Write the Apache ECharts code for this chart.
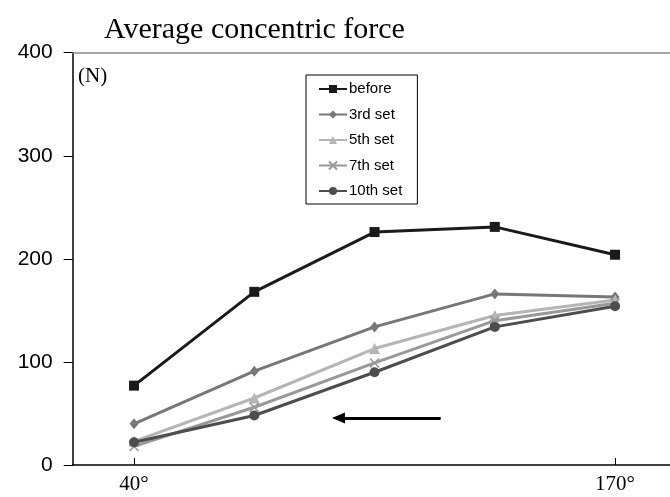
<!DOCTYPE html>
<html>
<head>
<meta charset="utf-8">
<script src="https://cdn.jsdelivr.net/npm/echarts@6/dist/echarts.min.js"></script>
<style>html,body{margin:0;padding:0;background:#fff}#c{width:670px;height:497px}</style>
</head>
<body>
<div id="c"></div>
<script>
// ---- data ----
const xLabels = ['40°', '', '', '', '170°'];
const seriesNames = ['before', '3rd set', '5th set', '7th set', '10th set'];
const before  = [77, 168, 226, 231, 204];
const set3    = [40, 91, 134, 166, 163];
const set5    = [23, 65, 113, 145, 160];
const set7    = [18, 56, 99, 140, 157];
const set10   = [22, 48, 90, 134, 154];
const yTicks  = [0, 100, 200, 300, 400];
const arrowFrom = [2.55, 45.5];
const arrowTo   = [1.70, 45.5];

const chart = echarts.init(document.getElementById('c'), null, {renderer: 'canvas'});

function pts(vals) { return vals.map((v, i) => [i, v]); }

const styles = [
  {color: '#1a1a1a', symbol: 'rect', size: 10},
  {color: '#777777', symbol: 'diamond', size: [9, 11]},
  {color: '#b5b5b5', symbol: 'triangle', size: 11},
  {color: '#999999', symbol: 'path://M0,0 L10,10 M10,0 L0,10', size: 9},
  {color: '#4d4d4d', symbol: 'circle', size: 10}
];
const allVals = [before, set3, set5, set7, set10];

const series = allVals.map((vals, k) => {
  const st = styles[k];
  return {
    name: seriesNames[k],
    type: 'line',
    data: pts(vals),
    symbol: st.symbol,
    symbolSize: st.size,
    showSymbol: true,
    lineStyle: {color: st.color, width: 3},
    itemStyle: {color: st.color, borderColor: st.color, borderWidth: k === 3 ? 1.6 : 0},
    emphasis: {disabled: true},
    animation: false,
    z: 2 + k
  };
});

series[0].markLine = {
  silent: true,
  animation: false,
  symbol: ['none', 'triangle'],
  symbolSize: [11, 13],
  label: {show: false},
  itemStyle: {color: '#000'},
  lineStyle: {color: '#000', width: 3, type: 'solid'},
  data: [[{coord: arrowFrom}, {coord: arrowTo}]]
};

const option = {
  backgroundColor: '#fff',
  animation: false,
  title: {
    text: 'Average concentric force',
    left: 104, top: 15, padding: 0,
    textStyle: {fontFamily: 'Liberation Serif', fontWeight: 'normal', fontSize: 30, color: '#000'}
  },
  grid: {left: 72.7, right: 0, top: 52.7, bottom: 32, containLabel: false},
  legend: {
    orient: 'vertical',
    left: 306, top: 75,
    padding: [6, 15, 5, 12],
    itemWidth: 28, itemHeight: 10, itemGap: 9.5,
    borderColor: '#000', borderWidth: 1,
    backgroundColor: '#fff',
    textStyle: {fontFamily: 'Liberation Sans', fontSize: 15, color: '#000', lineHeight: 16, padding: [0, 0, 0, -3]},
    data: seriesNames,
    selectedMode: false
  },
  xAxis: [{
    type: 'value',
    min: -0.51, max: 4.457,
    axisLine: {show: true, onZero: false, lineStyle: {color: '#000', width: 1.5}},
    axisTick: {show: true, inside: true, length: 7, customValues: [0, 4], lineStyle: {color: '#000', width: 1}},
    axisLabel: {
      show: true, customValues: [0, 4], margin: 9,
      fontFamily: 'Liberation Serif', fontSize: 21, color: '#000',
      formatter: v => xLabels[Math.round(v)] || ''
    },
    splitLine: {show: false}
  }, {
    type: 'value',
    position: 'top',
    min: -0.51, max: 4.457,
    axisLine: {show: true, onZero: false, lineStyle: {color: '#8a8a8a', width: 1.5}},
    axisTick: {show: false}, axisLabel: {show: false}, splitLine: {show: false}
  }],
  yAxis: {
    type: 'value',
    min: 0, max: 400, interval: 100,
    axisLine: {show: true, onZero: false, lineStyle: {color: '#000', width: 1.5}},
    axisTick: {show: true, inside: false, length: 9, lineStyle: {color: '#000', width: 1}},
    axisLabel: {
      margin: 20, fontFamily: 'Liberation Sans', fontSize: 21, color: '#000',
      formatter: v => yTicks.includes(v) ? String(v) : ''
    },
    splitLine: {show: false}
  },
  graphic: [{
    type: 'text',
    left: 78, top: 66,
    style: {text: '(N)', font: '21px "Liberation Serif"', fill: '#000'}
  }],
  series: series
};
chart.setOption(option);
</script>
</body>
</html>
